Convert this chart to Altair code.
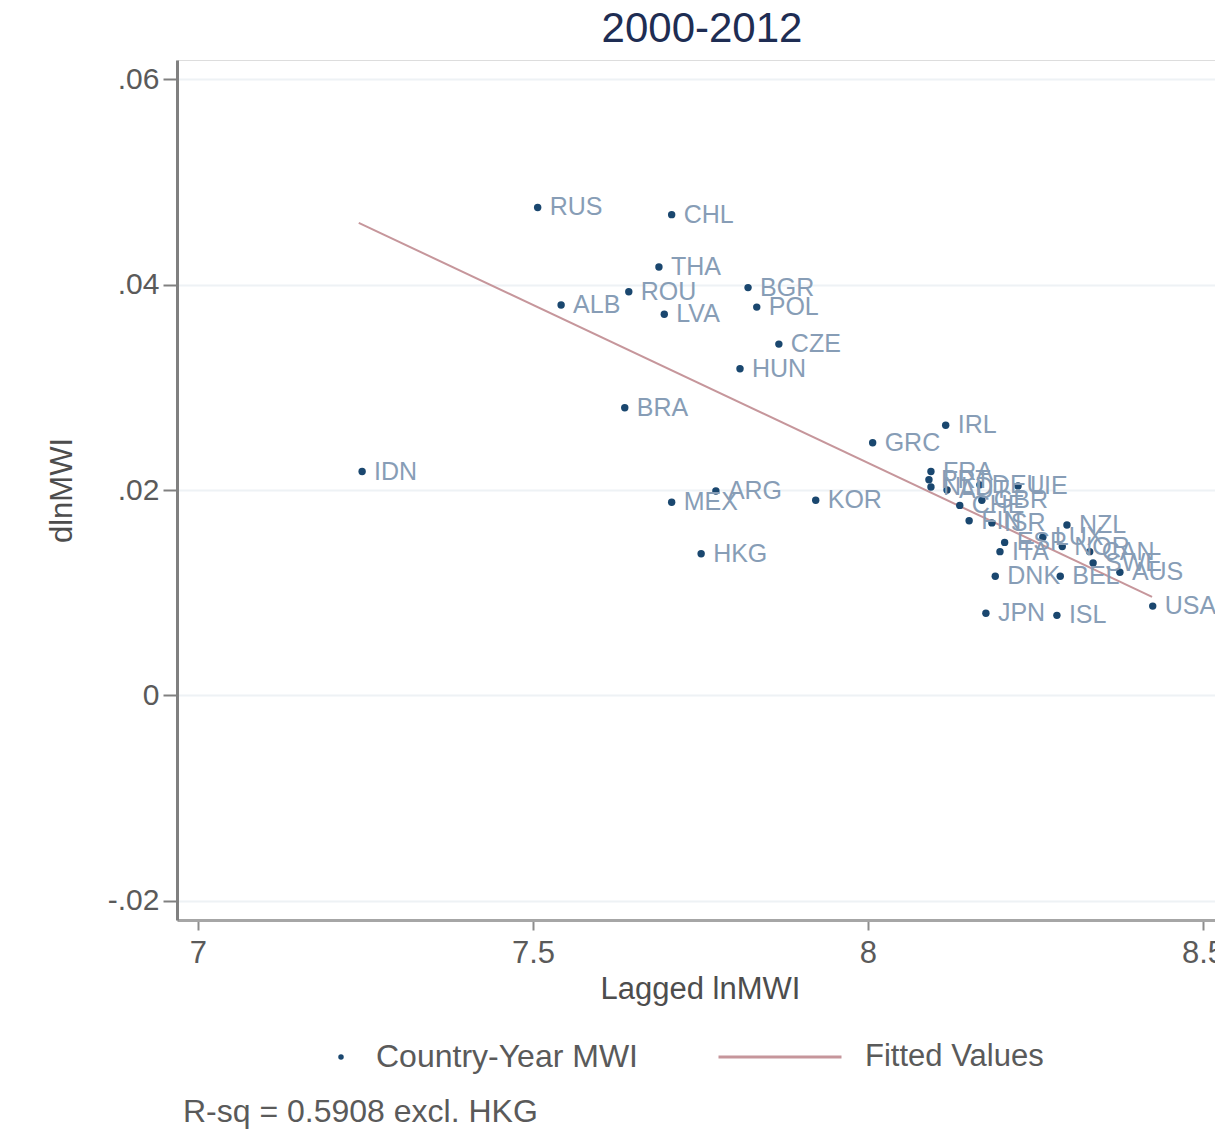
import altair as alt
import pandas as pd

# ---------------- data ----------------
countries = ["RUS", "CHL", "THA", "ROU", "ALB", "LVA", "BGR", "POL", "CZE", "HUN",
             "BRA", "IRL", "GRC", "IDN", "ARG", "MEX", "KOR", "HKG",
             "FRA", "PRT", "NLD", "AUT", "DEU", "CHE", "GBR", "FIN", "ISR", "LIE",
             "NZL", "ESP", "ITA", "LUX", "NOR", "CAN", "SWE", "DNK", "BEL", "AUS",
             "USA", "JPN", "ISL"]
lagged_lnmwi = [7.507, 7.707, 7.688, 7.643, 7.542, 7.696, 7.821, 7.834, 7.867, 7.809,
                7.637, 8.116, 8.007, 7.245, 7.773, 7.707, 7.922, 7.751,
                8.094, 8.091, 8.094, 8.118, 8.167, 8.137, 8.170, 8.151, 8.185, 8.224,
                8.297, 8.204, 8.197, 8.261, 8.290, 8.331, 8.336, 8.190, 8.287, 8.376,
                8.425, 8.176, 8.282]
dlnmwi = [0.0475, 0.0468, 0.0417, 0.0393, 0.0380, 0.0371, 0.0397, 0.0378, 0.0342, 0.0318,
          0.0280, 0.0263, 0.0246, 0.0218, 0.0199, 0.0188, 0.0190, 0.0138,
          0.0218, 0.0210, 0.0203, 0.0200, 0.0205, 0.0185, 0.0190, 0.0170, 0.0168, 0.0204,
          0.0166, 0.0149, 0.0140, 0.0154, 0.0145, 0.0140, 0.0129, 0.0116, 0.0116, 0.0120,
          0.0087, 0.0080, 0.0078]

fit_x = [7.240, 8.424]
fit_y = [0.0460, 0.0096]

title_text = "2000-2012"
x_title = "Lagged lnMWI"
y_title = "dlnMWI"
x_ticks = [7, 7.5, 8, 8.5]
y_ticks = [-0.02, 0, 0.02, 0.04, 0.06]
legend_points = "Country-Year MWI"
legend_fit = "Fitted Values"
note_text = "R-sq = 0.5908 excl. HKG"

# ---------------- styling ----------------
FONT = "Liberation Sans"
NAVY = "#1a476f"
LABEL_BLUE = "#879db6"
FIT_COLOR = "#c6969b"
GRAY_TXT = "#5a5a5a"

W, H = 1038, 860

pts = pd.DataFrame({"country": countries, "x": lagged_lnmwi, "y": dlnmwi,
                    "series": [legend_points] * len(countries)})
fit = pd.DataFrame({"x": fit_x, "y": fit_y, "series": [legend_fit] * len(fit_x)})
note = pd.DataFrame({"note": [note_text]})

xscale = alt.Scale(domain=[6.9687, 6.9687 + W / 670.0], nice=False, zero=False)
yscale = alt.Scale(domain=[-0.02185, 0.06185], nice=False, zero=False)

xaxis = alt.Axis(values=x_ticks, labelExpr="toString(datum.value)", title=x_title,
                 grid=False, domainColor="#a6a6a6", domainWidth=3,
                 tickColor="#8c8c8c", tickWidth=2, tickSize=10,
                 labelFont=FONT, labelFontSize=31, labelColor=GRAY_TXT, labelPadding=8,
                 labelFlush=False,
                 titleFont=FONT, titleFontSize=31, titleColor="#4d4d4d",
                 titleFontWeight="normal", titleX=523, titleY=54,
                 titleBaseline="top", titleAlign="center")
yaxis = alt.Axis(values=y_ticks,
                 labelExpr="datum.value == 0 ? '0' : (datum.value < 0 ? '-' : '') + replace(format(abs(datum.value), '.2f'), '0.', '.')",
                 title=y_title, grid=True, gridColor="#eef2f5", gridWidth=2,
                 domainColor="#808080", domainWidth=3,
                 tickColor="#808080", tickWidth=2, tickSize=14,
                 labelFont=FONT, labelFontSize=30, labelColor=GRAY_TXT, labelPadding=4,
                 titleFont=FONT, titleFontSize=31, titleColor="#4d4d4d",
                 titleFontWeight="normal", titleAngle=270, titleAlign="center",
                 titleBaseline="bottom", titleX=-99, titleY=430)

line = alt.Chart(fit).mark_line(strokeWidth=2).encode(
    x=alt.X("x:Q", scale=xscale, axis=xaxis),
    y=alt.Y("y:Q", scale=yscale, axis=yaxis),
    stroke=alt.Stroke("series:N",
                      scale=alt.Scale(domain=[legend_fit], range=[FIT_COLOR]),
                      legend=alt.Legend(orient="none", legendX=540, legendY=981, title=None,
                                        symbolType="stroke", symbolSize=15129,
                                        symbolStrokeWidth=3, symbolStrokeColor="#d6b5b8",
                                        clipHeight=32, labelOffset=22, padding=0,
                                        labelLimit=0,
                                        labelFont=FONT, labelFontSize=31,
                                        labelColor=GRAY_TXT)),
)

points = alt.Chart(pts).mark_circle(size=55, opacity=1).encode(
    x=alt.X("x:Q", scale=xscale),
    y=alt.Y("y:Q", scale=yscale),
    color=alt.Color("series:N",
                    scale=alt.Scale(domain=[legend_points], range=[NAVY]),
                    legend=alt.Legend(orient="none", legendX=148, legendY=981, title=None,
                                      symbolType="circle", symbolSize=30,
                                      clipHeight=32, labelOffset=19, padding=0,
                                      labelLimit=0,
                                      labelFont=FONT, labelFontSize=32,
                                      labelColor=GRAY_TXT)),
)

labels = alt.Chart(pts).mark_text(align="left", baseline="middle", dx=12,
                                  font=FONT, fontSize=25, color=LABEL_BLUE).encode(
    x=alt.X("x:Q", scale=xscale),
    y=alt.Y("y:Q", scale=yscale),
    text="country:N",
)

note_layer = alt.Chart(note).mark_text(align="left", baseline="middle", font=FONT,
                                       fontSize=32, color=GRAY_TXT).encode(
    x=alt.value(6), y=alt.value(1052), text="note:N")

chart = alt.layer(line, points, labels, note_layer).resolve_scale(
    color="independent", stroke="independent"
).properties(
    width=W, height=H,
    autosize=alt.AutoSizeParams(type="none"),
    padding={"left": 169, "top": 52, "right": 0, "bottom": 212},
    title=alt.Title(title_text, font=FONT, fontSize=42, color="#1e2d53",
                    fontWeight="normal", anchor="middle", offset=9, dx=6),
).configure_view(stroke=None).configure(background="white")

chart.save("out.html", embed_options={"renderer": "svg", "actions": False})
